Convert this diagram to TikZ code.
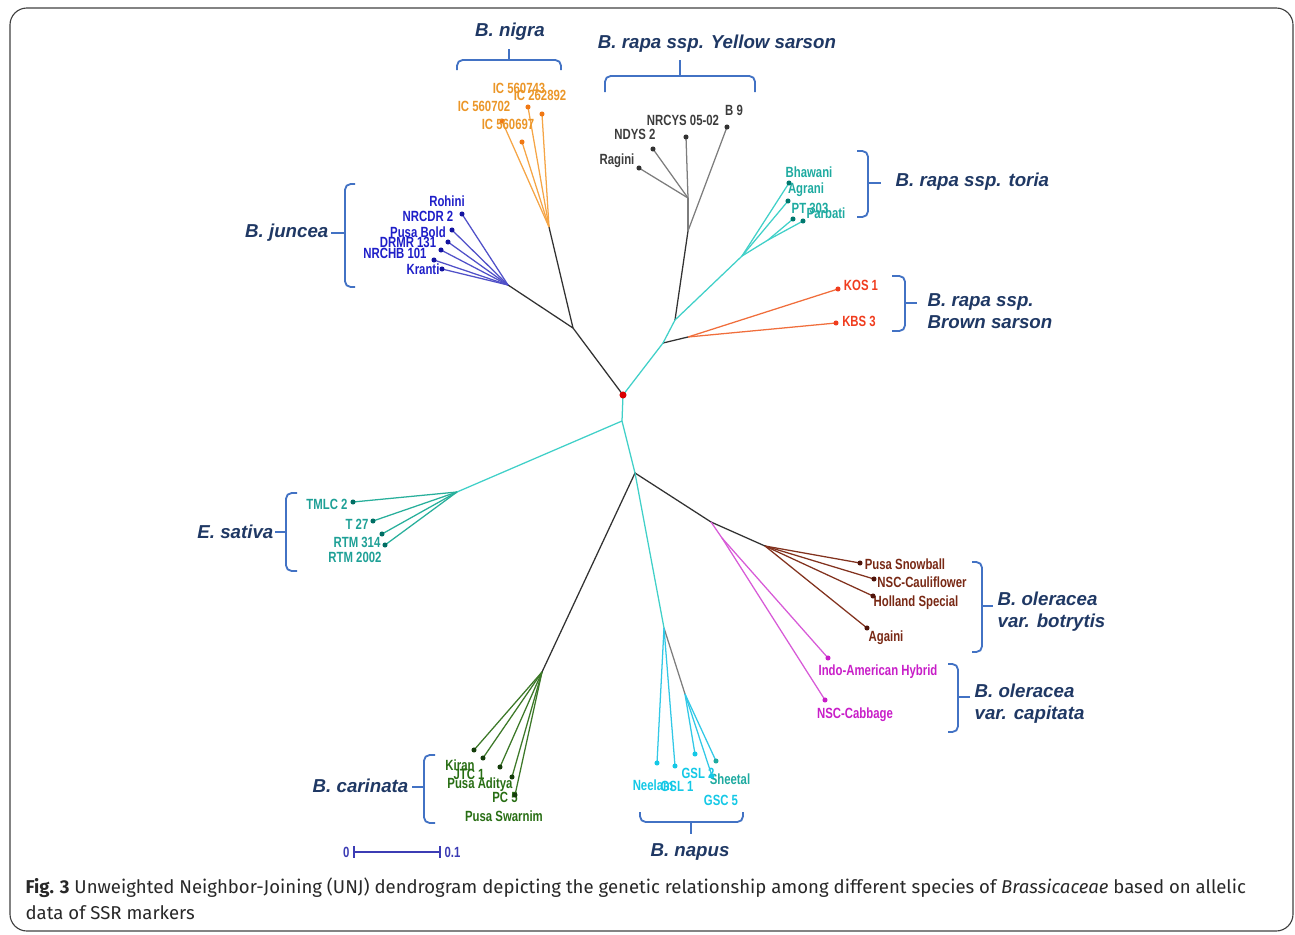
\documentclass[tikz,border=0pt]{standalone}
\usepackage{fontspec}
\setmainfont{Fira Sans}
\newfontfamily\leaffont[FakeStretch=0.77]{Liberation Sans}
\newfontfamily\grpfont{Liberation Sans}
\usetikzlibrary{positioning}
\definecolor{grpnavy}{RGB}{31,56,100}
\definecolor{bracecol}{RGB}{66,114,196}
\definecolor{maincyan}{RGB}{64,208,200}
\definecolor{branchblk}{RGB}{50,50,50}
\definecolor{greyln}{RGB}{125,125,125}
\definecolor{nigraln}{RGB}{245,165,70}
\definecolor{nigratx}{RGB}{235,150,40}
\definecolor{nigradt}{RGB}{240,120,20}
\definecolor{ysartx}{RGB}{60,60,60}
\definecolor{junln}{RGB}{80,80,200}
\definecolor{juntx}{RGB}{30,30,200}
\definecolor{jundt}{RGB}{20,20,160}
\definecolor{toriatx}{RGB}{30,170,160}
\definecolor{toriadt}{RGB}{0,120,110}
\definecolor{brownln}{RGB}{240,110,60}
\definecolor{browntx}{RGB}{240,60,30}
\definecolor{sativaln}{RGB}{40,175,155}
\definecolor{sativatx}{RGB}{30,160,150}
\definecolor{sativadt}{RGB}{0,110,100}
\definecolor{botln}{RGB}{130,50,30}
\definecolor{bottx}{RGB}{120,40,20}
\definecolor{botdt}{RGB}{80,20,10}
\definecolor{capln}{RGB}{215,90,215}
\definecolor{captx}{RGB}{200,30,200}
\definecolor{carln}{RGB}{60,120,40}
\definecolor{cartx}{RGB}{40,110,20}
\definecolor{cardt}{RGB}{20,60,10}
\definecolor{napln}{RGB}{50,200,230}
\definecolor{naptx}{RGB}{20,200,230}
\definecolor{scalecol}{RGB}{60,60,180}
\definecolor{captcol}{RGB}{40,40,40}

\begin{document}
\begin{tikzpicture}[x=0.025cm, y=-0.025cm, line width=0.9pt,
  leaf/.style={font=\leaffont\bfseries\fontsize{10.5}{11}\selectfont, inner sep=0pt},
  dot/.style={circle, inner sep=0pt, minimum size=3.6pt},
  grp/.style={font=\grpfont\bfseries\itshape\fontsize{13.3}{15.6}\selectfont, text=grpnavy, inner sep=0pt, align=left},
  br/.style={draw=bracecol, line width=1.3pt, rounded corners=4pt},
  blk/.style={draw=branchblk},
  cyn/.style={draw=maincyan},
  gry/.style={draw=greyln}
]
  \useasboundingbox (0,0) rectangle (1295,934);
  \draw[rounded corners=12pt, line width=0.8pt, black!75] (10,8) rectangle (1293,931);

  % inner nodes of the tree
  \coordinate (root) at (623,395);
  \coordinate (nA) at (573,328);
  \coordinate (nNig) at (549,227);
  \coordinate (nJun) at (508,285);
  \coordinate (nB) at (663,343);
  \coordinate (nBS) at (688,337);
  \coordinate (nC) at (675,320);
  \coordinate (nD) at (688,231);
  \coordinate (nE) at (688,198);
  \coordinate (nF) at (742,256);
  \coordinate (nF2) at (768,240);
  \coordinate (nG) at (622,421);
  \coordinate (nH) at (457,492);
  \coordinate (nI) at (635,473);
  \coordinate (nJ) at (711,522);
  \coordinate (nCap) at (722,538);
  \coordinate (nM) at (765,546);
  \coordinate (nK) at (542,672);
  \coordinate (nL) at (664,628);
  \coordinate (nL2) at (685,694);

  \draw[blk] (root) -- (nA);
  \draw[blk] (nA) -- (nNig);
  \draw[blk] (nA) -- (nJun);
  \draw[cyn] (root) -- (nB);
  \draw[blk] (nB) -- (nBS);
  \draw[cyn] (nB) -- (nC);
  \draw[blk] (nC) -- (nD);
  \draw[gry] (nD) -- (nE);
  \draw[cyn] (nC) -- (nF);
  \draw[cyn] (nF) -- (nF2);
  \draw[cyn] (root) -- (nG);
  \draw[cyn] (nG) -- (nH);
  \draw[cyn] (nG) -- (nI);
  \draw[blk] (nI) -- (nJ);
  \draw[blk] (nJ) -- (nM);
  \draw[draw=capln] (nJ) -- (nCap);
  \draw[blk] (nI) -- (nK);
  \draw[cyn] (nI) -- (nL);
  \draw[gry] (nL) -- (nL2);

  % B. nigra
  \foreach \lf/\pt/\lab/\lp in {ic1/{528,107}/IC 560743/{519,88}, ic2/{542,114}/IC 262892/{540,95},
      ic3/{502,121}/IC 560702/{484,106}, ic4/{522,142}/IC 560697/{508,124}}{
    \coordinate (\lf) at (\pt);
    \draw[draw=nigraln] (nNig) -- (\lf);
    \node[leaf, text=nigratx] (\lf-lab) at (\lp) {\lab};
    \node[dot, fill=nigradt] (\lf-dot) at (\lf) {};
  }

  % B. rapa ssp. Yellow sarson
  \foreach \lf/\up/\pt/\lab/\lp in {rag/nE/{639,168}/Ragini/{617,161}, ndy/nE/{653,149}/NDYS 2/{635,134},
      nrc/nE/{686,137}/NRCYS 05-02/{683,120}, bn/nD/{727,127}/B 9/{734,110}}{
    \coordinate (\lf) at (\pt);
    \draw[gry] (\up) -- (\lf);
    \node[leaf, text=ysartx] (\lf-lab) at (\lp) {\lab};
    \node[dot, fill=branchblk] (\lf-dot) at (\lf) {};
  }

  % B. rapa ssp. toria
  \foreach \lf/\up/\pt/\lab/\lp in {bha/nF/{789,183}/Bhawani/{809,172}, agr/nF/{788,201}/Agrani/{806,190},
      pt/nF2/{793,219}/PT 303/{810,208}, par/nF2/{803,221}/Parbati/{826,213}}{
    \coordinate (\lf) at (\pt);
    \draw[cyn] (\up) -- (\lf);
    \node[leaf, text=toriatx] (\lf-lab) at (\lp) {\lab};
    \node[dot, fill=toriadt] (\lf-dot) at (\lf) {};
  }

  % B. rapa ssp. Brown sarson
  \foreach \lf/\pt/\lab/\lp in {kos/{838,289}/KOS 1/{861,285}, kbs/{836,323}/KBS 3/{859,321}}{
    \coordinate (\lf) at (\pt);
    \draw[draw=brownln] (nBS) -- (\lf);
    \node[leaf, text=browntx] (\lf-lab) at (\lp) {\lab};
    \node[dot, fill=browntx] (\lf-dot) at (\lf) {};
  }

  % B. juncea
  \foreach \lf/\pt/\lab/\lp in {roh/{462,214}/Rohini/{447,201}, nrd/{452,230}/NRCDR 2/{428,216},
      pbo/{448,242}/Pusa Bold/{418,232}, drm/{441,250}/DRMR 131/{408,242},
      nrh/{434,260}/NRCHB 101/{395,253}, kra/{442,269}/Kranti/{423,269}}{
    \coordinate (\lf) at (\pt);
    \draw[draw=junln] (nJun) -- (\lf);
    \node[leaf, text=juntx] (\lf-lab) at (\lp) {\lab};
    \node[dot, fill=jundt] (\lf-dot) at (\lf) {};
  }

  % E. sativa
  \foreach \lf/\pt/\lab/\lp in {tml/{353,502}/TMLC 2/{327,504}, tt/{373,521}/T 27/{357,524},
      rta/{382,534}/RTM 314/{357,542}, rtb/{385,545}/RTM 2002/{355,557}}{
    \coordinate (\lf) at (\pt);
    \draw[draw=sativaln] (nH) -- (\lf);
    \node[leaf, text=sativatx] (\lf-lab) at (\lp) {\lab};
    \node[dot, fill=sativadt] (\lf-dot) at (\lf) {};
  }

  % B. oleracea var. botrytis
  \foreach \lf/\pt/\lab/\lp in {psn/{860,563}/Pusa Snowball/{905,564}, nsc/{874,579}/NSC-Cauliflower/{922,582},
      hol/{873,596}/Holland Special/{916,603}, aga/{867,628}/Againi/{886,638}}{
    \coordinate (\lf) at (\pt);
    \draw[draw=botln] (nM) -- (\lf);
    \node[leaf, text=bottx] (\lf-lab) at (\lp) {\lab};
    \node[dot, fill=botdt] (\lf-dot) at (\lf) {};
  }

  % B. oleracea var. capitata
  \foreach \lf/\pt/\lab/\lp in {iah/{828,658}/Indo-American Hybrid/{878,672}, nca/{825,700}/NSC-Cabbage/{855,715}}{
    \coordinate (\lf) at (\pt);
    \draw[draw=capln] (nCap) -- (\lf);
    \node[leaf, text=captx] (\lf-lab) at (\lp) {\lab};
    \node[dot, fill=captx] (\lf-dot) at (\lf) {};
  }

  % B. carinata
  \foreach \lf/\pt/\lab/\lp in {kir/{474,750}/Kiran/{460,765}, jtc/{483,758}/JTC 1/{469,774},
      pad/{500,767}/Pusa Aditya/{480,785}, pc/{512,777}/PC 5/{505,797}, psw/{515,795}/Pusa Swarnim/{504,816}}{
    \coordinate (\lf) at (\pt);
    \draw[draw=carln] (nK) -- (\lf);
    \node[leaf, text=cartx] (\lf-lab) at (\lp) {\lab};
    \node[dot, fill=cardt] (\lf-dot) at (\lf) {};
  }

  % B. napus
  \foreach \lf/\up/\pt/\lab/\lp/\tc in {nee/nL/{657,763}/Neelam/{653,785}/naptx, gsa/nL/{675,766}/GSL 1/{677,786}/naptx,
      gsb/nL2/{695,754}/GSL 2/{698,773}/naptx, she/nL2/{716,761}/Sheetal/{730,779}/toriatx,
      gsc/nL2/{712,776}/GSC 5/{721,800}/naptx}{
    \coordinate (\lf) at (\pt);
    \draw[draw=napln] (\up) -- (\lf);
    \node[leaf, text=\tc] (\lf-lab) at (\lp) {\lab};
    \node[dot, fill=\tc] (\lf-dot) at (\lf) {};
  }

  \node[dot, fill=red!85!black, minimum size=5pt] (rootdot) at (root) {};

  % brackets
  \draw[br] (457,70) -- (457,60) -- (561,60) -- (561,70);
  \draw[br] (509,60) -- (509,49);
  \draw[br] (605,92) -- (605,76) -- (755,76) -- (755,92);
  \draw[br] (680,76) -- (680,60);
  \draw[br] (857,151) -- (868,151) -- (868,217) -- (857,217);
  \draw[br] (868,183) -- (881,183);
  \draw[br] (892,276) -- (905,276) -- (905,331) -- (892,331);
  \draw[br] (905,303) -- (917,303);
  \draw[br] (355,184) -- (345,184) -- (345,287) -- (355,287);
  \draw[br] (345,233) -- (331,233);
  \draw[br] (297,493) -- (286,493) -- (286,571) -- (297,571);
  \draw[br] (286,532) -- (275,532);
  \draw[br] (972,562) -- (982,562) -- (982,652) -- (972,652);
  \draw[br] (982,606) -- (993,606);
  \draw[br] (948,664) -- (958,664) -- (958,732) -- (948,732);
  \draw[br] (958,697) -- (970,697);
  \draw[br] (435,755) -- (424,755) -- (424,823) -- (435,823);
  \draw[br] (424,787) -- (412,787);
  \draw[br] (640,812) -- (640,822) -- (743,822) -- (743,812);
  \draw[br] (691,822) -- (691,834);

  % group labels
  \node[grp] (gNig) at (510,32) {B. nigra};
  \node[grp] (gYel) at (717,44) {B. rapa ssp. Yellow sarson};
  \node[grp, anchor=west] (gTor) at (895,182) {B. rapa ssp. toria};
  \node[grp, anchor=west] (gBro) at (927,311) {B. rapa ssp.\\Brown sarson};
  \node[grp, anchor=east] (gJun) at (329,233) {B. juncea};
  \node[grp, anchor=east] (gSat) at (274,532) {E. sativa};
  \node[grp, anchor=west] (gBot) at (997,612) {B. oleracea\\var. botrytis};
  \node[grp, anchor=west] (gCap) at (974,704) {B. oleracea\\var. capitata};
  \node[grp, anchor=east] (gCar) at (409,786) {B. carinata};
  \node[grp] (gNap) at (690,852) {B. napus};

  % scale bar
  \coordinate (s0) at (354,852);
  \coordinate (s1) at (440,852);
  \draw[draw=scalecol] (s0) -- (s1);
  \draw[draw=scalecol] ([yshift=-4pt]s0) -- ([yshift=4pt]s0);
  \draw[draw=scalecol] ([yshift=-4pt]s1) -- ([yshift=4pt]s1);
  \node[leaf, text=scalecol, anchor=east] (s0-lab) at (350,852) {0};
  \node[leaf, text=scalecol, anchor=west] (s1-lab) at (444,852) {0.1};

  % caption
  \node[anchor=north west, inner sep=0pt, align=left, text=captcol, font=\fontsize{13.2}{18.5}\selectfont] (caption) at (25,877)
    {\textbf{Fig. 3} Unweighted Neighbor-Joining (UNJ) dendrogram depicting the genetic relationship among different species of \textit{Brassicaceae} based on allelic\\data of SSR markers};
\end{tikzpicture}
\end{document}
